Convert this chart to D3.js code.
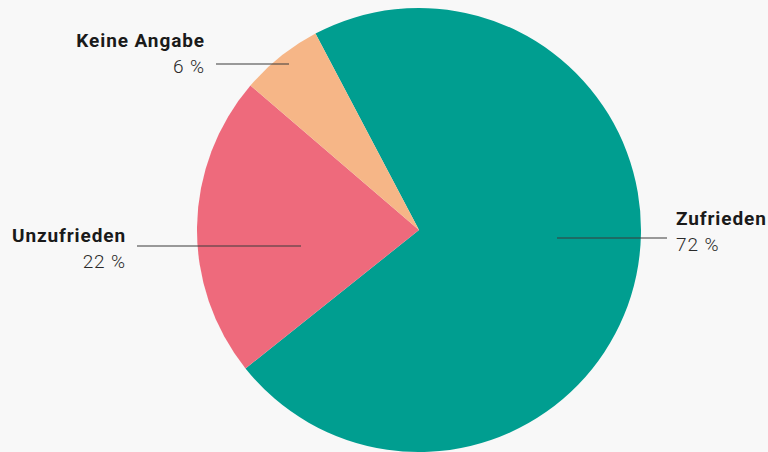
<!DOCTYPE html>
<html>
<head>
<meta charset="utf-8">
<script src="https://cdn.jsdelivr.net/npm/d3@7"></script>
<style>
  html, body { margin: 0; padding: 0; background: #f8f8f8; }
  svg { display: block; }
</style>
</head>
<body>
<svg id="chart"></svg>
<script>
const categories = ['Zufrieden', 'Unzufrieden', 'Keine Angabe'];
const values = [72, 22, 6];
const colors = ['#009e90', '#ee6a7c', '#f6b687'];

const WIDTH = 768;
const HEIGHT = 452;
const CENTER = { x: 419, y: 230 };
const RADIUS = 222;
const START = -27.8 * Math.PI / 180;

// label placement: text anchor side, label row, line start/end
const labelCfg = [
    { side: 'left',  tx: 676, ty: 225, lx1: 557, lx2: 667, ly: 238 },
    { side: 'right', tx: 126, ty: 242, lx1: 137, lx2: 301, ly: 246 },
    { side: 'right', tx: 205, ty: 47,  lx1: 216, lx2: 289, ly: 64 }
];

const svg = d3.select('#chart')
    .attr('width', WIDTH)
    .attr('height', HEIGHT);

svg.append('rect').attr('width', WIDTH).attr('height', HEIGHT).attr('fill', '#f8f8f8');

const data = categories.map((c, i) => ({ name: c, value: values[i], color: colors[i] }));

const pie = d3.pie()
    .value(d => d.value)
    .sort(null)
    .startAngle(START)
    .endAngle(START + 2 * Math.PI);

const arc = d3.arc().innerRadius(0).outerRadius(RADIUS);

const g = svg.append('g')
    .attr('transform', `translate(${CENTER.x}, ${CENTER.y})`);

g.selectAll('path')
    .data(pie(data))
    .join('path')
    .attr('d', arc)
    .attr('fill', d => d.data.color);

const labels = svg.append('g');

data.forEach((d, i) => {
    const c = labelCfg[i];
    labels.append('line')
        .attr('x1', c.lx1).attr('x2', c.lx2)
        .attr('y1', c.ly).attr('y2', c.ly)
        .attr('stroke', '#3a3a3a')
        .attr('stroke-width', 1);

    const anchor = c.side === 'left' ? 'start' : 'end';
    labels.append('text')
        .attr('x', c.tx)
        .attr('y', c.ty)
        .attr('text-anchor', anchor)
        .style('font-family', 'Roboto, sans-serif')
        .style('font-weight', 'bold')
        .style('font-size', '19px')
        .style('letter-spacing', '0.9px')
        .style('fill', '#1a1a1a')
        .text(d.name);

    labels.append('text')
        .attr('x', c.tx)
        .attr('y', c.ty + 26)
        .attr('text-anchor', anchor)
        .style('font-family', 'Roboto, sans-serif')
        .style('font-weight', 300)
        .style('font-size', '19px')
        .style('letter-spacing', '0.9px')
        .style('fill', '#2a2a2a')
        .text(`${d.value} %`);
});
</script>
</body>
</html>
